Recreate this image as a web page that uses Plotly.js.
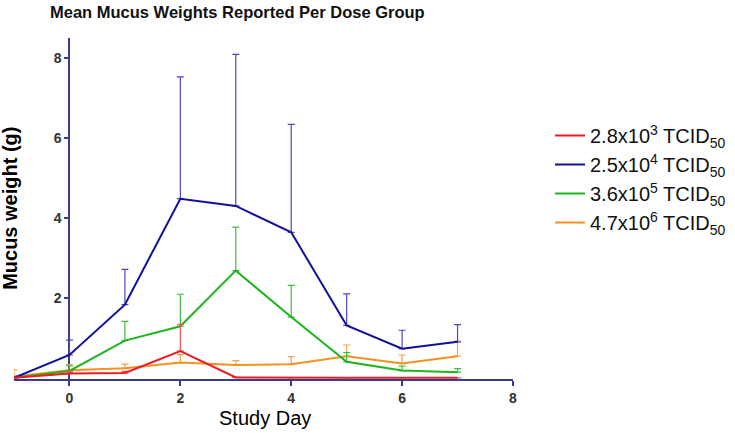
<!DOCTYPE html>
<html>
<head>
<meta charset="utf-8">
<script src="https://cdn.plot.ly/plotly-3.0.1.min.js"></script>
<style>html,body{margin:0;padding:0;background:#fff;}#chart{width:735px;height:433px;}</style>
</head>
<body>
<div id="chart"></div>
<script>
const days = [-1, 0, 1, 2, 3, 4, 5, 6, 7];
const seriesNames = [
  "2.8x10<sup>3</sup> TCID<sub>50</sub>",
  "2.5x10<sup>4</sup> TCID<sub>50</sub>",
  "3.6x10<sup>5</sup> TCID<sub>50</sub>",
  "4.7x10<sup>6</sup> TCID<sub>50</sub>"
];
const redMean    = [0, 0.11, 0.12, 0.67, 0.01, 0, 0, 0, 0];
const redErr     = [0, 0.04, 0.04, 0.67, 0, 0, 0, 0, 0];
const blueMean   = [0, 0.57, 1.83, 4.48, 4.30, 3.64, 1.31, 0.73, 0.90];
const blueErr    = [0, 0.37, 0.88, 3.05, 3.79, 2.70, 0.79, 0.46, 0.43];
const greenMean  = [0, 0.17, 0.93, 1.29, 2.68, 1.52, 0.40, 0.18, 0.14];
const greenErr   = [0, 0.13, 0.48, 0.80, 1.09, 0.79, 0.23, 0.11, 0.09];
const orangeMean = [0.03, 0.19, 0.24, 0.38, 0.32, 0.34, 0.54, 0.36, 0.54];
const orangeErr  = [0.17, 0.14, 0.10, 0.20, 0.11, 0.19, 0.28, 0.21, 0.38];
const xTicks = [0, 2, 4, 6, 8];
const yTicks = [2, 4, 6, 8];

const FONT = "Liberation Sans, Arial, Helvetica, sans-serif";
const zeros = days.map(() => 0);

function mk(name, y, err, color, errColor, rank) {
  return {
    x: days, y: y, name: name, type: "scatter", mode: "lines",
    line: {color: color, width: 2},
    error_y: {type: "data", symmetric: false, array: err, arrayminus: zeros,
              color: errColor, thickness: 1.2, width: 3.5},
    legendrank: rank
  };
}

const traces = [
  mk(seriesNames[3], orangeMean, orangeErr, "#f7901e", "#f6a050", 4),
  mk(seriesNames[2], greenMean, greenErr, "#1db51d", "#3cc03c", 3),
  mk(seriesNames[1], blueMean, blueErr, "#10109c", "#4848c0", 2),
  mk(seriesNames[0], redMean, redErr, "#ec1c24", "#f05058", 1)
];

const axisColor = "#3b3b86";
const layout = {
  width: 735, height: 433,
  margin: {l: 14, r: 222, t: 38, b: 54},
  paper_bgcolor: "#fff", plot_bgcolor: "#fff",
  showlegend: true,
  font: {family: FONT, color: "#333"},
  title: {text: "<b>Mean Mucus Weights Reported Per Dose Group</b>",
          font: {family: FONT, size: 16.5, color: "#111"},
          xref: "container", yref: "container",
          x: 50/735, xanchor: "left", y: 1 - 12/433, yanchor: "middle"},
  xaxis: {
    range: [-1, 8], tickvals: xTicks, ticktext: xTicks.map(String),
    showgrid: false, zeroline: false,
    showline: true, linecolor: axisColor, linewidth: 2,
    ticks: "outside", ticklen: 5, tickwidth: 2, tickcolor: axisColor,
    tickfont: {family: FONT, size: 14, color: "#333", weight: "bold"},
    layer: "below traces"
  },
  yaxis: {
    range: [-0.03, 8.5], tickvals: yTicks, ticktext: yTicks.map(String),
    anchor: "free", position: 1/9,
    showgrid: false, zeroline: false,
    showline: true, linecolor: axisColor, linewidth: 2,
    ticks: "outside", ticklen: 4, tickwidth: 2, tickcolor: axisColor,
    tickfont: {family: FONT, size: 14, color: "#333", weight: "bold"},
    layer: "below traces"
  },
  legend: {
    xref: "container", yref: "container",
    x: 550/735, xanchor: "left", y: 1 - 116/433, yanchor: "top",
    font: {family: FONT, size: 20, color: "#111"},
    bgcolor: "rgba(0,0,0,0)", tracegroupgap: 0
  },
  annotations: [
    {text: "<b>Mucus weight (g)</b>", textangle: -90, showarrow: false,
     xref: "paper", yref: "paper", x: (10 - 14)/499, y: (379.5 - 209)/341.7,
     xanchor: "center", yanchor: "middle",
     font: {family: FONT, size: 20, color: "#000"}},
    {text: "Study Day", showarrow: false,
     xref: "paper", yref: "paper", x: (264.5 - 14)/499, y: (379.5 - 419)/341.7,
     xanchor: "center", yanchor: "middle",
     font: {family: FONT, size: 20, color: "#000"}}
  ]
};

Plotly.newPlot("chart", traces, layout, {displayModeBar: false, staticPlot: true});
</script>
</body>
</html>
